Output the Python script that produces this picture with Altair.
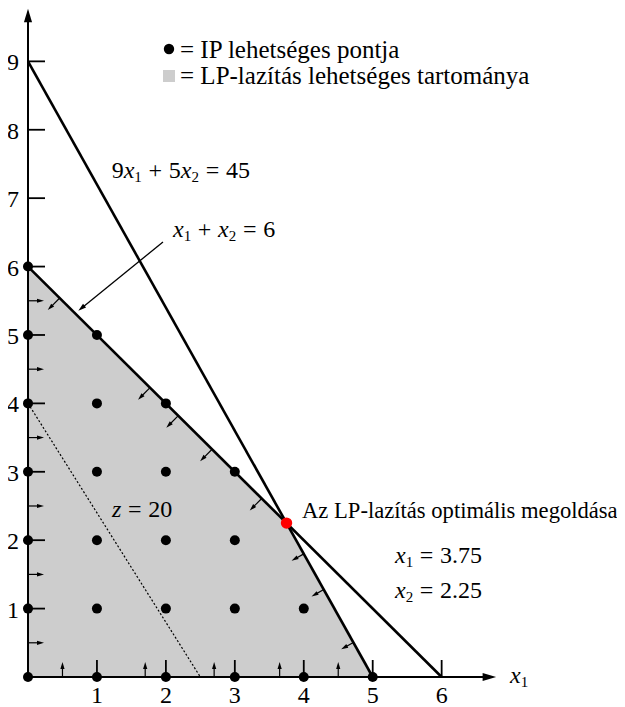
import math
import altair as alt
import pandas as pd

# ---------------- data ----------------
# integer (IP) feasible points
ip_x1 = [0, 0, 0, 0, 0, 0, 0, 1, 1, 1, 1, 1, 1, 2, 2, 2, 2, 2, 3, 3, 3, 3, 4, 4, 5]
ip_x2 = [0, 1, 2, 3, 4, 5, 6, 0, 1, 2, 3, 4, 5, 0, 1, 2, 3, 4, 0, 1, 2, 3, 0, 1, 0]
# LP relaxation region (upper boundary)
region_x1 = [0, 3.75, 5]
region_x2 = [6, 2.25, 0]
# LP optimum
opt_x1 = [3.75]
opt_x2 = [2.25]
# constraint lines and objective line (end points)
line_9_5 = [(0, 9), (5, 0)]      # 9x1 + 5x2 = 45
line_1_1 = [(0, 6), (6, 0)]      # x1 + x2 = 6
line_z20 = [(0, 4), (2.5, 0)]    # z = 20
x_ticks = [1, 2, 3, 4, 5, 6]
y_ticks = [1, 2, 3, 4, 5, 6, 7, 8, 9]
# small direction arrows
yaxis_arrow_y = [0.5, 1.5, 2.5, 3.5, 4.5, 5.5]
xaxis_arrow_x = [0.5, 1.7, 2.7, 3.65, 4.5]
c1_arrow_pts = [(0.46, 5.54), (1.77, 4.23), (2.18, 3.82), (2.67, 3.33), (3.39, 2.61)]
c2_arrow_pts = [(4.0, 1.8), (4.29, 1.278), (4.72, 0.504)]

# ---------------- layout ----------------
FONT = "Liberation Serif, Times New Roman, Times, DejaVu Serif, serif"
FS = 24
SUB = 15
W, H = 586, 669
XMAX, YMAX = 8.5, 9.78
PXX, PXY = W / XMAX, H / YMAX

xs = alt.Scale(domain=[0, XMAX], nice=False, zero=False)
ys = alt.Scale(domain=[0, YMAX], nice=False, zero=False)


def X(f="x"):
    return alt.X(f"{f}:Q", scale=xs, axis=None)


def Y(f="y"):
    return alt.Y(f"{f}:Q", scale=ys, axis=None)


def rules(df, width, dash=None, color="black"):
    kw = dict(color=color, strokeWidth=width)
    if dash:
        kw["strokeDash"] = dash
    return alt.Chart(df).mark_rule(**kw).encode(
        x=X("x"), y=Y("y"), x2=alt.X2("x2:Q"), y2=alt.Y2("y2:Q"))


HEAD_SHAPE = "M0,0L0.3,1L-0.3,1Z"
shafts_small, heads = [], []


def arrow_dir(bx, by, dxp, dyp, length, head, store):
    n = math.hypot(dxp, dyp)
    ux, uy = dxp / n, dyp / n
    tx, ty = bx + ux * length / PXX, by - uy * length / PXY
    sx, sy = bx + ux * (length - head * 0.6) / PXX, by - uy * (length - head * 0.6) / PXY
    ang = (math.degrees(math.atan2(ux, -uy)) + 360) % 360
    store.append(dict(x=bx, y=by, x2=sx, y2=sy))
    heads.append(dict(x=tx, y=ty, angle=ang, size=4 * head * head))


for yv in yaxis_arrow_y:
    arrow_dir(0, yv, 1, 0, 16, 7, shafts_small)
for xv in xaxis_arrow_x:
    arrow_dir(xv, 0, 0, -1, 15, 7, shafts_small)
for bx, by in c1_arrow_pts:
    arrow_dir(bx, by, -PXY, PXX, 17, 7, shafts_small)
for bx, by in c2_arrow_pts:
    arrow_dir(bx, by, -9 * PXY, 5 * PXX, 14, 7, shafts_small)

# leader arrow for x1 + x2 = 6
leader = []
lb = (1.958, 6.359)
lt = (0.73, 5.355)
arrow_dir(lb[0], lb[1], (lt[0] - lb[0]) * PXX, -(lt[1] - lb[1]) * PXY,
          math.hypot((lt[0] - lb[0]) * PXX, (lt[1] - lb[1]) * PXY), 8, leader)

# axis arrows
axis_shafts = []
arrow_dir(0, 0, 0, -1, 9.77 * PXY, 13.5, axis_shafts)
arrow_dir(0, 0, 1, 0, 6.79 * PXX, 13.5, axis_shafts)

# ---------------- rich text (math labels) ----------------
WEM = {**{str(d): 0.5 for d in range(10)}, "+": 0.564, "=": 0.564, ".": 0.25,
       "x": 0.444, "z": 0.389}
GAP = 0.28 * FS
SUB_DROP = 4
txt_n, txt_i, txt_s = [], [], []


def rich(ax, ay, tokens):
    cur = 0.0
    for t, kind in tokens:
        if kind == "op":
            cur += GAP
        size = SUB if kind == "sub" else FS
        w = sum(WEM[c] for c in t) * size
        row = dict(x=ax + cur / PXX, y=ay, t=t)
        if kind == "sub":
            row["y"] = ay - SUB_DROP / PXY
            txt_s.append(row)
        elif kind == "i":
            txt_i.append(row)
        else:
            txt_n.append(row)
        cur += w
        if kind == "op":
            cur += GAP


rich(1.214, 7.295, [("9", "n"), ("x", "i"), ("1", "sub"), ("+", "op"), ("5", "n"),
                    ("x", "i"), ("2", "sub"), ("=", "op"), ("45", "n")])
rich(2.103, 6.432, [("x", "i"), ("1", "sub"), ("+", "op"), ("x", "i"), ("2", "sub"),
                    ("=", "op"), ("6", "n")])
rich(1.218, 2.339, [("z", "i"), ("=", "op"), ("20", "n")])
rich(5.323, 1.667, [("x", "i"), ("1", "sub"), ("=", "op"), ("3.75", "n")])
rich(5.323, 1.155, [("x", "i"), ("2", "sub"), ("=", "op"), ("2.25", "n")])
rich(6.992, -0.088, [("x", "i"), ("1", "sub")])

plain_texts = pd.DataFrame([
    dict(x=2.205, y=9.049, t="= IP lehetséges pontja"),
    dict(x=2.205, y=8.662, t="= LP-lazítás lehetséges tartománya"),
])
opt_text = pd.DataFrame([dict(x=3.975, y=2.324, t="Az LP-lazítás optimális megoldása")])

# ---------------- layers ----------------
region = alt.Chart(pd.DataFrame({"x": region_x1, "y": region_x2, "y0": [0] * 3})).mark_area(
    color="#cdcdcd", opacity=1).encode(x=X("x"), y=Y("y"), y2=alt.Y2("y0:Q"))


def seg(pts):
    return pd.DataFrame([dict(x=pts[0][0], y=pts[0][1], x2=pts[1][0], y2=pts[1][1])])


zl = rules(seg(line_z20), 1.2, dash=[2, 2])
cl = rules(pd.concat([seg(line_9_5), seg(line_1_1)]), 2.6)
ax_l = rules(pd.DataFrame(axis_shafts), 2)
yt = rules(pd.DataFrame(dict(x=[0] * len(y_ticks), x2=[17 / PXX] * len(y_ticks),
                             y=y_ticks, y2=y_ticks)), 1.8)
xt = rules(pd.DataFrame(dict(x=x_ticks, x2=x_ticks, y=[0] * len(x_ticks),
                             y2=[17 / PXY] * len(x_ticks))), 1.8)
sm = rules(pd.DataFrame(shafts_small), 1.2)
ld = rules(pd.DataFrame(leader), 1.3)
hd = alt.Chart(pd.DataFrame(heads)).mark_point(
    shape=HEAD_SHAPE, filled=True, opacity=1, color="black", strokeWidth=0).encode(
    x=X("x"), y=Y("y"), angle=alt.Angle("angle:Q", scale=None),
    size=alt.Size("size:Q", scale=None))

dots = alt.Chart(pd.DataFrame({"x": ip_x1, "y": ip_x2})).mark_circle(
    size=100, color="black", opacity=1).encode(x=X("x"), y=Y("y"))
opt = alt.Chart(pd.DataFrame({"x": opt_x1, "y": opt_x2})).mark_circle(
    size=130, color="#ff0000", opacity=1).encode(x=X("x"), y=Y("y"))

leg_dot = alt.Chart(pd.DataFrame({"x": [2.045], "y": [9.181]})).mark_circle(
    size=108, color="black", opacity=1).encode(x=X("x"), y=Y("y"))
leg_sq = alt.Chart(pd.DataFrame({"x": [2.045], "y": [8.786]})).mark_square(
    size=144, color="#cdcdcd", opacity=1).encode(x=X("x"), y=Y("y"))


def text_layer(df, **kw):
    base = dict(font=FONT, fontSize=FS, color="black", align="left", baseline="alphabetic")
    base.update(kw)
    return alt.Chart(pd.DataFrame(df)).mark_text(**base).encode(
        x=X("x"), y=Y("y"), text="t:N")


tn = text_layer(txt_n)
ti = text_layer(txt_i, fontStyle="italic")
ts = text_layer(txt_s, fontSize=SUB)
tp = text_layer(plain_texts, fontSize=25)
to = text_layer(opt_text, fontSize=22.6)
ylab = text_layer(pd.DataFrame(dict(x=[0] * len(y_ticks), y=y_ticks, t=[str(v) for v in y_ticks])),
                  align="right", dx=-9, dy=9)
xlab = text_layer(pd.DataFrame(dict(x=x_ticks, y=[0] * len(x_ticks), t=[str(v) for v in x_ticks])),
                  align="center", dy=26)

chart = alt.layer(
    region, zl, cl, ax_l, yt, xt, sm, ld, hd, dots, opt, leg_dot, leg_sq,
    tn, ti, ts, tp, to, ylab, xlab
).properties(
    width=W, height=H,
    autosize=alt.AutoSizeParams(type="none"),
    padding={"left": 20, "top": 0, "right": 3, "bottom": 30},
    background="white",
).configure_view(stroke=None)

chart.save("out.html", embed_options={"renderer": "svg", "actions": False})
